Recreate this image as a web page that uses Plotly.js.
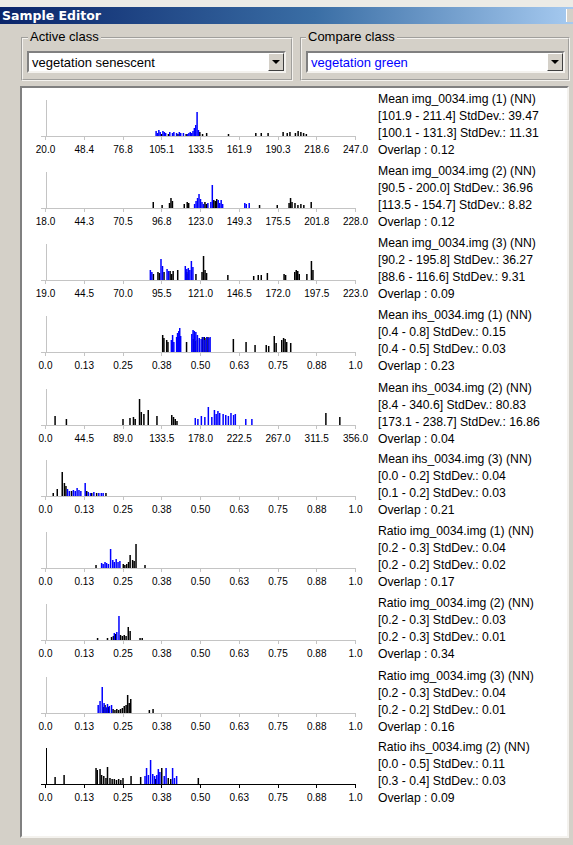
<!DOCTYPE html>
<html>
<head>
<meta charset="utf-8">
<script src="https://cdn.plot.ly/plotly-3.0.1.min.js"></script>
<style>
  html, body { margin:0; padding:0; }
  body { width:573px; height:845px; background:#d4d0c8; position:relative; overflow:hidden;
         font-family:"Liberation Sans", Arial, sans-serif; }
  .abs { position:absolute; }
  #topstrip { left:0; top:0; width:573px; height:7px; background:#ecebe6; }
  #titlebar { left:0px; top:7px; width:573px; height:17px;
              background:linear-gradient(to right,#0a246a 0%,#3a6ea5 55%,#a6caf0 100%); }
  #titlebar span { position:absolute; left:2px; top:1px; color:#fff; font-weight:bold; font-size:12.5px;
                   font-family:"DejaVu Sans", Verdana, sans-serif; }
  .group { border:2px groove #f4f2ee; box-sizing:border-box; }
  .glabel { font-size:13px; color:#000; background:#d4d0c8; padding:0 2px; line-height:15px; }
  .combo { background:#fff; box-sizing:border-box; border-top:2px solid #808080; border-left:2px solid #808080;
           border-bottom:2px solid #f4f2ee; border-right:2px solid #f4f2ee; }
  .combo span { position:absolute; left:3px; top:2px; font-size:13px; line-height:15px; }
  .btn { background:#d4d0c8; box-sizing:border-box; border-top:1px solid #fff; border-left:1px solid #fff;
         border-bottom:1px solid #404040; border-right:1px solid #404040; }
  .tri { width:0; height:0; border-left:4px solid transparent; border-right:4px solid transparent; border-top:4px solid #000; }
  #panel { left:20px; top:86px; width:549px; height:752px; background:#fff; box-sizing:border-box;
           border-top:2px solid #808080; border-left:2px solid #808080; border-bottom:2px solid #f4f2ee; border-right:2px solid #f4f2ee; }
  #chart { left:0; top:0; width:573px; height:845px; }
</style>
</head>
<body>
<div id="topstrip" class="abs"></div>
<div id="titlebar" class="abs"><span>Sample Editor</span></div>
<div class="abs" style="left:566px;top:9px;width:7px;height:13px;background:#d4d0c8;border-left:1px solid #fff;"></div>

<div class="abs group" style="left:21px;top:37px;width:272px;height:44px;"></div>
<div class="abs glabel" style="left:28px;top:29px;">Active class</div>
<div class="abs combo" style="left:27px;top:51px;width:259px;height:22px;"><span style="color:#000">vegetation senescent</span></div>
<div class="abs btn" style="left:268px;top:53px;width:16px;height:18px;"><div class="tri abs" style="left:3px;top:6px;"></div></div>

<div class="abs group" style="left:300px;top:37px;width:270px;height:44px;"></div>
<div class="abs glabel" style="left:306px;top:29px;">Compare class</div>
<div class="abs combo" style="left:306px;top:51px;width:259px;height:22px;"><span style="color:#0000ff">vegetation green</span></div>
<div class="abs btn" style="left:547px;top:53px;width:16px;height:18px;"><div class="tri abs" style="left:3px;top:6px;"></div></div>

<div id="panel" class="abs"></div>
<div id="chart" class="abs"></div>

<script>
// ---------------- DATA ----------------
// Tick labels (first / last give axis extent)
const p1Ticks = ['20.0','48.4','76.8','105.1','133.5','161.9','190.3','218.6','247.0'];
const p2Ticks = ['18.0','44.3','70.5','96.8','123.0','149.3','175.5','201.8','228.0'];
const p3Ticks = ['19.0','44.5','70.0','95.5','121.0','146.5','172.0','197.5','223.0'];
const p4Ticks = ['0.0','0.13','0.25','0.38','0.50','0.63','0.75','0.88','1.0'];
const p5Ticks = ['0.0','44.5','89.0','133.5','178.0','222.5','267.0','311.5','356.0'];
const p6Ticks = p4Ticks, p7Ticks = p4Ticks, p8Ticks = p4Ticks, p9Ticks = p4Ticks, p10Ticks = p4Ticks;

// Active class (black) and compare class (blue) histogram bars
const p1ActX  = [105, 110, 117, 123, 133, 135, 138, 154, 174, 178, 183, 194, 197, 199, 203, 205, 207, 209, 211];
const p1ActY  = [2, 2, 2, 2, 4, 2, 3, 2, 3, 3, 3, 4, 3, 4, 3, 5, 4, 3, 2];
const p1CompX = [101, 102, 103, 104, 106, 107, 108, 111, 113, 114, 116, 118, 119, 121, 124, 125, 126, 127, 128, 129, 130, 131, 132];
const p1CompY = [5, 3, 6, 4, 5, 4, 3, 4, 3, 4, 3, 4, 3, 3, 2, 3, 4, 3, 5, 8, 11, 24, 6];

const p2ActX  = [91, 97, 102, 103, 104, 112, 114, 115, 126, 127, 132, 133, 134, 163, 175, 183, 184, 185, 187, 189, 191, 193, 198];
const p2ActY  = [6, 3, 5, 10, 7, 4, 6, 5, 6, 4, 8, 7, 9, 3, 3, 5, 10, 6, 5, 3, 4, 3, 6];
const p2CompX = [119, 120, 121, 122, 123, 124, 125, 128, 130, 131, 135, 136, 137, 138, 153, 154, 156];
const p2CompY = [4, 7, 10, 14, 9, 6, 4, 5, 6, 23, 8, 5, 8, 4, 5, 4, 5];

const p3ActX  = [90, 93, 94, 97, 101, 102, 103, 106, 112, 113, 118, 122, 123, 124, 125, 139, 156, 159, 161, 165, 176, 177, 183, 184, 185, 186, 191, 194, 195];
const p3ActY  = [6, 8, 7, 8, 9, 6, 9, 10, 8, 6, 6, 8, 24, 10, 7, 5, 4, 5, 5, 7, 6, 5, 8, 10, 9, 6, 6, 19, 10];
const p3CompX = [88, 89, 95, 96, 99, 100, 111, 112, 113, 114, 115, 116];
const p3CompY = [10, 8, 21, 14, 11, 9, 14, 11, 12, 10, 19, 13];

const p4ActX  = [0.378, 0.382, 0.391, 0.395, 0.428, 0.432, 0.455, 0.477, 0.483, 0.49, 0.506, 0.512, 0.518, 0.524, 0.606, 0.647, 0.676, 0.712, 0.72, 0.738, 0.744, 0.762, 0.768, 0.773, 0.778, 0.791];
const p4ActY  = [17, 14, 12, 10, 15, 12, 10, 13, 11, 12, 15, 15, 14, 15, 13, 10, 7, 7, 6, 16, 9, 12, 14, 13, 10, 9];
const p4CompX = [0.406, 0.41, 0.414, 0.423, 0.426, 0.43, 0.433, 0.436, 0.472, 0.476, 0.48, 0.485, 0.49, 0.496, 0.502, 0.508, 0.514, 0.52, 0.527, 0.531];
const p4CompY = [12, 17, 10, 15, 19, 21, 24, 16, 18, 22, 21, 20, 17, 14, 13, 15, 12, 15, 14, 15];

const p5ActX  = [11, 24, 89, 97, 101, 103, 108, 110, 113, 118, 128, 145, 147, 149, 151, 322, 338];
const p5ActY  = [9, 6, 6, 7, 8, 6, 26, 13, 11, 15, 9, 10, 8, 6, 4, 12, 8];
const p5CompX = [172, 175, 179, 183, 187, 191, 194, 196, 198, 200, 204, 207, 210, 213, 216, 218, 230, 237];
const p5CompY = [7, 6, 9, 8, 18, 8, 15, 11, 14, 12, 11, 10, 9, 12, 10, 11, 6, 6];

const p6ActX  = [0.025, 0.038, 0.054, 0.061, 0.066, 0.084, 0.133, 0.149, 0.165, 0.195];
const p6ActY  = [3, 7, 24, 13, 10, 5, 5, 3, 3, 3];
const p6CompX = [0.071, 0.077, 0.09, 0.096, 0.102, 0.108, 0.114, 0.128, 0.138, 0.145, 0.156, 0.172, 0.18, 0.186];
const p6CompY = [7, 5, 6, 5, 8, 6, 5, 13, 4, 3, 4, 3, 3, 3];

const p7ActX  = [0.163, 0.251, 0.256, 0.262, 0.268, 0.273, 0.281, 0.286, 0.292, 0.321];
const p7ActY  = [3, 4, 3, 4, 6, 13, 8, 7, 24, 3];
const p7CompX = [0.181, 0.186, 0.192, 0.197, 0.203, 0.21, 0.217, 0.222, 0.228, 0.234, 0.24];
const p7CompY = [5, 4, 6, 5, 4, 19, 8, 6, 9, 6, 7];

const p8ActX  = [0.168, 0.2, 0.213, 0.219, 0.226, 0.242, 0.248, 0.254, 0.26, 0.267, 0.273, 0.305, 0.312];
const p8ActY  = [2, 2, 3, 4, 6, 5, 4, 5, 4, 13, 9, 2, 2];
const p8CompX = [0.222, 0.23, 0.237];
const p8CompY = [7, 8, 24];

const p9ActX  = [0.186, 0.192, 0.198, 0.204, 0.218, 0.224, 0.23, 0.236, 0.242, 0.248, 0.254, 0.26, 0.265, 0.27, 0.275, 0.335, 0.347];
const p9ActY  = [6, 8, 5, 6, 4, 3, 4, 3, 4, 5, 7, 8, 18, 10, 14, 3, 4];
const p9CompX = [0.17, 0.176, 0.183, 0.189, 0.195, 0.2, 0.206, 0.213];
const p9CompY = [8, 12, 26, 10, 6, 9, 7, 8];

const p10ActX  = [0.031, 0.06, 0.163, 0.167, 0.176, 0.181, 0.188, 0.195, 0.2, 0.208, 0.215, 0.222, 0.229, 0.236, 0.243, 0.25, 0.276, 0.307, 0.355, 0.375, 0.396, 0.404, 0.493];
const p10ActY  = [7, 9, 16, 14, 15, 9, 8, 6, 17, 6, 5, 5, 4, 5, 4, 6, 8, 7, 5, 16, 6, 5, 6];
const p10CompX = [0.321, 0.326, 0.332, 0.339, 0.346, 0.352, 0.359, 0.364, 0.369, 0.383, 0.389, 0.41, 0.416, 0.423];
const p10CompY = [8, 16, 9, 24, 10, 8, 9, 15, 12, 8, 16, 16, 6, 8];

// Statistics text
const bandNames = ['Mean img_0034.img (1) (NN)','Mean img_0034.img (2) (NN)','Mean img_0034.img (3) (NN)',
  'Mean ihs_0034.img (1) (NN)','Mean ihs_0034.img (2) (NN)','Mean ihs_0034.img (3) (NN)',
  'Ratio img_0034.img (1) (NN)','Ratio img_0034.img (2) (NN)','Ratio img_0034.img (3) (NN)','Ratio ihs_0034.img (2) (NN)'];
const activeStats = ['[101.9 - 211.4] StdDev.: 39.47','[90.5 - 200.0] StdDev.: 36.96','[90.2 - 195.8] StdDev.: 36.27',
  '[0.4 - 0.8] StdDev.: 0.15','[8.4 - 340.6] StdDev.: 80.83','[0.0 - 0.2] StdDev.: 0.04',
  '[0.2 - 0.3] StdDev.: 0.04','[0.2 - 0.3] StdDev.: 0.03','[0.2 - 0.3] StdDev.: 0.04','[0.0 - 0.5] StdDev.: 0.11'];
const compareStats = ['[100.1 - 131.3] StdDev.: 11.31','[113.5 - 154.7] StdDev.: 8.82','[88.6 - 116.6] StdDev.: 9.31',
  '[0.4 - 0.5] StdDev.: 0.03','[173.1 - 238.7] StdDev.: 16.86','[0.1 - 0.2] StdDev.: 0.03',
  '[0.2 - 0.2] StdDev.: 0.02','[0.2 - 0.3] StdDev.: 0.01','[0.2 - 0.2] StdDev.: 0.01','[0.3 - 0.4] StdDev.: 0.03'];
const overlaps = ['0.12','0.12','0.09','0.23','0.04','0.21','0.17','0.34','0.16','0.09'];

// ---------------- LAYOUT / DRAW ----------------
const W = 573, H = 845;
const panels = [
  [p1ActX,p1ActY,p1CompX,p1CompY,p1Ticks],[p2ActX,p2ActY,p2CompX,p2CompY,p2Ticks],
  [p3ActX,p3ActY,p3CompX,p3CompY,p3Ticks],[p4ActX,p4ActY,p4CompX,p4CompY,p4Ticks],
  [p5ActX,p5ActY,p5CompX,p5CompY,p5Ticks],[p6ActX,p6ActY,p6CompX,p6CompY,p6Ticks],
  [p7ActX,p7ActY,p7CompX,p7CompY,p7Ticks],[p8ActX,p8ActY,p8CompX,p8CompY,p8Ticks],
  [p9ActX,p9ActY,p9CompX,p9CompY,p9Ticks],[p10ActX,p10ActY,p10CompX,p10CompY,p10Ticks]
];
const axisPx = [136, 208, 280, 352, 425, 496, 568, 640, 713, 784];
const plotH = 36;           // pixel height of each histogram frame
const dom0 = 41, dom1 = 356; // x domain in px
const v0px = 45.5, v1px = 355.5; // where min / max values sit

const traces = [], layout = {
  width: W, height: H, margin:{l:0,r:0,t:0,b:0,pad:0},
  paper_bgcolor:'rgba(0,0,0,0)', plot_bgcolor:'rgba(0,0,0,0)',
  showlegend:false, barmode:'overlay', annotations:[],
  font:{family:'"Liberation Sans", Arial, sans-serif', color:'#000'}
};

panels.forEach((p, i) => {
  const [ax, ay, cx, cy, ticks] = p;
  const n = i + 1, xs = n === 1 ? '' : String(n);
  const mn = parseFloat(ticks[0]), mx = parseFloat(ticks[ticks.length-1]);
  const s = (mx - mn) / (v1px - v0px);
  const range = [mn - (v0px - dom0) * s, mx + (dom1 - v1px) * s];
  const tickvals = ticks.map((t, k) => mn + k * (mx - mn) / (ticks.length - 1));
  const lineCol = (n === 10) ? '#000000' : '#c4c4c4';
  const bw = 1.5 * s;
  traces.push({type:'bar', x:ax, y:ay, width:bw, xaxis:'x'+xs, yaxis:'y'+xs,
               marker:{color:'#000000', line:{width:0}}, hoverinfo:'skip'});
  traces.push({type:'bar', x:cx, y:cy, width:bw, xaxis:'x'+xs, yaxis:'y'+xs,
               marker:{color:'#0000ff', line:{width:0}}, hoverinfo:'skip'});
  const yb = (H - axisPx[i]) / H, yt = (H - axisPx[i] + plotH) / H;
  layout['xaxis'+xs] = {
    domain:[dom0/W, dom1/W], range:range, anchor:'y'+xs,
    showline:true, linecolor:lineCol, linewidth:1, mirror:false,
    ticks:'outside', ticklen:3, tickwidth:1, tickcolor:lineCol,
    tickvals:tickvals, ticktext:ticks, ticklabelstandoff:1,
    tickfont:{size:10, family:'"Liberation Sans", Arial, sans-serif', color:'#000'},
    showgrid:false, zeroline:false, fixedrange:true
  };
  layout['yaxis'+xs] = {
    domain:[yb, yt], range:[0, plotH], anchor:'free', position:v0px/W,
    showline:true, linecolor:lineCol, linewidth:1,
    showticklabels:false, ticks:'', showgrid:false, zeroline:false, fixedrange:true
  };
  const lines = [bandNames[i], activeStats[i], compareStats[i], 'Overlap : ' + overlaps[i]];
  const offs = [-37, -20, -3, 14];
  lines.forEach((t, k) => {
    layout.annotations.push({text:t, xref:'paper', yref:'paper', x:376/W, y:(H - (axisPx[i] + offs[k]))/H,
      xanchor:'left', yanchor:'middle', showarrow:false,
      font:{size:12.2, family:'"Liberation Sans", Arial, sans-serif', color:'#000'}});
  });
});

Plotly.newPlot('chart', traces, layout, {staticPlot:true, displayModeBar:false});
</script>
</body>
</html>
